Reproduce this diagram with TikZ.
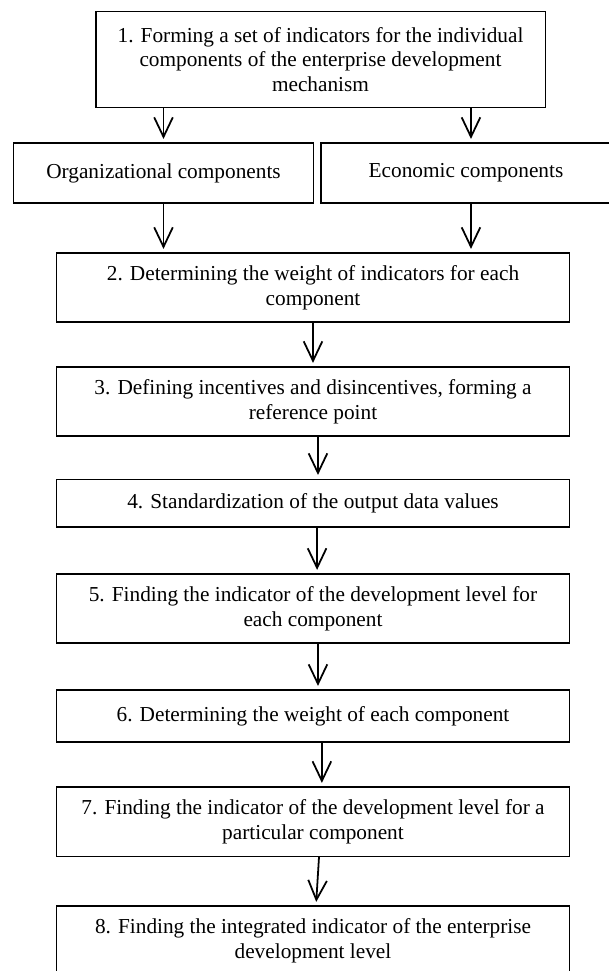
\documentclass[tikz,border=0pt]{standalone}
\usepackage{fontspec}
\setmainfont{Liberation Serif}
\usetikzlibrary{arrows.meta}

\begin{document}
\begin{tikzpicture}[x=0.5634pt,y=-0.5634pt,
    stepbox/.style={draw,line width=0.6pt,align=center,inner sep=2pt,
      font=\fontsize{12pt}{14pt}\selectfont,minimum width=288.5pt},
    arr/.style={line width=1pt,-{Straight Barb[length=11pt,width=10.5pt]},shorten >=2pt}]
    % Page in reference pixels, y pointing down
    \useasboundingbox (0,0) rectangle (609,971);
    % Step 1 and the two groups of components
    \node[stepbox,minimum width=253pt,minimum height=54.6pt] (b1) at (320.5,59.5)
        {1. Forming a set of indicators for the individual\\ components of the enterprise development\\ mechanism};
    \node[stepbox,minimum width=168.5pt,minimum height=33.8pt] (org) at (163.5,173) {Organizational components};
    \node[stepbox,minimum width=163.4pt,minimum height=33.8pt] (econ) at (466,173) {Economic components};
    % Steps 2 to 8
    \node[stepbox,minimum height=38.9pt] (b2) at (313,287.5)
        {2. Determining the weight of indicators for each\\ component};
    \node[stepbox,minimum height=38.9pt] (b3) at (313,401.5)
        {3. Defining incentives and disincentives, forming a\\ reference point};
    \node[stepbox,minimum height=27pt] (b4) at (313,503) {4. Standardization of the output data values};
    \node[stepbox,minimum height=38.9pt] (b5) at (313,608.5)
        {5. Finding the indicator of the development level for\\ each component};
    \node[stepbox,minimum height=29.3pt] (b6) at (313,716) {6. Determining the weight of each component};
    \node[stepbox,minimum height=38.9pt] (b7) at (313,821.5)
        {7. Finding the indicator of the development level for a\\ particular component};
    \node[stepbox,minimum height=38.9pt] (b8) at (313,940.5)
        {8. Finding the integrated indicator of the enterprise\\ development level};
    % Arrows
    \draw[arr] (org.north |- b1.south) -- (org.north);
    \draw[arr] ([xshift=2.8pt]econ.north |- b1.south) -- ([xshift=2.8pt]econ.north);
    \draw[arr] (org.south) -- (org.south |- b2.north);
    \draw[arr] ([xshift=2.8pt]econ.south) -- ([xshift=2.8pt]econ.south |- b2.north);
    \draw[arr] (b2) -- (b3);
    \draw[arr] ([xshift=2.8pt]b3.south) -- ([xshift=2.8pt]b4.north);
    \draw[arr] ([xshift=2.3pt]b4.south) -- ([xshift=2.3pt]b5.north);
    \draw[arr] ([xshift=2.8pt]b5.south) -- ([xshift=2.8pt]b6.north);
    \draw[arr] ([xshift=5pt]b6.south) -- ([xshift=5pt]b7.north);
    \draw[arr] ([xshift=3.4pt]b7.south) -- ([xshift=1.7pt]b8.north);
\end{tikzpicture}
\end{document}
